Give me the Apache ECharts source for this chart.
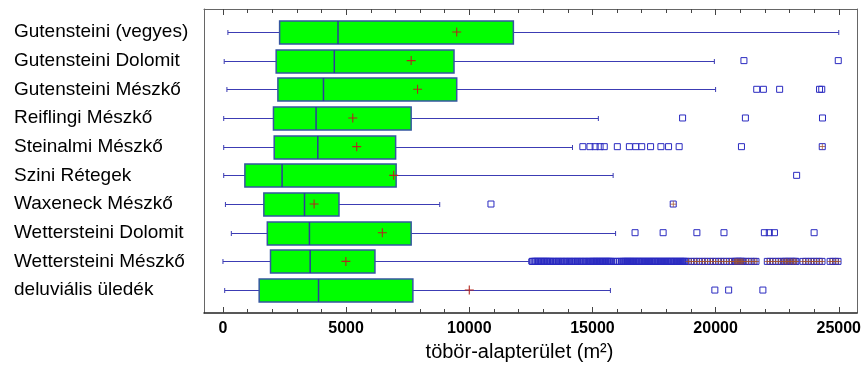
<!DOCTYPE html>
<html>
<head>
<meta charset="utf-8">
<script src="https://cdn.jsdelivr.net/npm/echarts@6/dist/echarts.min.js"></script>
<style>
  html, body { margin: 0; padding: 0; background: #fff; }
  #chart { width: 864px; height: 367px; }
</style>
</head>
<body>
<div id="chart"></div>
<script>
// categories, top to bottom
const categories = ['Gutensteini (vegyes)', 'Gutensteini Dolomit', 'Gutensteini Mészkő', 'Reiflingi Mészkő',
  'Steinalmi Mészkő', 'Szini Rétegek', 'Waxeneck Mészkő', 'Wettersteini Dolomit', 'Wettersteini Mészkő', 'deluviális üledék'];

// box statistics (m2)
const whiskerLow  = [200, 50, 160, 30, 30, 30, 100, 340, 0, 70];
const q1          = [2300, 2160, 2230, 2050, 2080, 890, 1660, 1800, 1930, 1470];
const median      = [4670, 4520, 4080, 3780, 3850, 2400, 3310, 3510, 3540, 3880];
const q3          = [11790, 9380, 9490, 7640, 7010, 7030, 4710, 7640, 6170, 7710];
const whiskerHigh = [25000, 19950, 20000, 15240, 14190, 15840, 8800, 15940, 12420, 15730];
const means       = [9490, 7640, 7900, 5270, 5430, 6930, 3700, 6470, 4990, 10000];

// outside points per category
const outGutVegyes = [];
const outGutDolomit = [21150, 24980];
const outGutMeszko = [21670, 21940, 22600, 24220, 24310];
const outReiflingi = [18660, 21210, 24340];
const outSteinalmi = [14610, 14900, 15110, 15310, 15480, 16010, 16500, 16760, 17000, 17360, 17780, 18090, 18520, 21050, 24330];
const outSzini = [23290];
const outWaxeneck = [10880, 18280];
const outWettDolomit = [16730, 17870, 19240, 20340, 21980, 22180, 22390, 24000];
const outWettMeszko = [
  12550, 12580, 12630, 12670, 12700, 12750, 12790, 12820, 12870, 12910, 12940, 12990, 13030, 13060, 13110, 13150, 13180, 13230, 13270,
  13320, 13380, 13430, 13490, 13540, 13600, 13650, 13710, 13760, 13820, 13870, 13930, 13980, 14040, 14090,
  14150, 14200, 14260, 14310, 14370, 14420, 14480, 14530, 14590, 14640, 14700, 14750, 14810, 14860, 14920,
  14970, 15010, 15050, 15090, 15130, 15170, 15210, 15260, 15290, 15330, 15380, 15410, 15460, 15500, 15540, 15580, 15620, 15660, 15700, 15740, 15780,
  15860, 15950, 16030, 16110, 16180,
  16230, 16270, 16310, 16350, 16390, 16430, 16470, 16510, 16550, 16590,
  16630, 16670, 16720, 16760, 16800, 16850, 16890, 16930, 16980, 17020, 17060, 17110, 17150, 17190, 17240, 17280, 17320,
  17370, 17410, 17450, 17500, 17540, 17580, 17630, 17670, 17710, 17760, 17800, 17840, 17890, 17930, 17970, 18020, 18060,
  18100, 18150, 18190, 18230, 18280, 18320, 18360, 18410, 18450, 18490, 18540, 18580, 18620, 18670, 18710, 18750, 18800,
  18900, 19010, 19130, 19230, 19340, 19460, 19560, 19670, 19790, 19890, 20000, 20120, 20220, 20330, 20440, 20560,
  20660, 20770, 20800, 20840, 20890, 20920, 20960, 21010, 21040, 21080, 21120, 21230, 21340, 21450, 21560, 21640,
  22100, 22210, 22320, 22440, 22550, 22660, 22760, 22820, 22870, 22930, 22990, 23050, 23110, 23170, 23230, 23270,
  23550, 23660, 23770, 23880, 23990, 24100, 24210, 24320,
  24650, 24760, 24870, 24970
];
const outDeluvialis = [19970, 20530, 21920];
const outliers = [outGutVegyes, outGutDolomit, outGutMeszko, outReiflingi, outSteinalmi,
  outSzini, outWaxeneck, outWettDolomit, outWettMeszko, outDeluvialis];

const majorTicks = [0, 5000, 10000, 15000, 20000, 25000];
const minorTicks = [1000, 2000, 3000, 4000, 6000, 7000, 8000, 9000, 11000, 12000, 13000, 14000,
  16000, 17000, 18000, 19000, 21000, 22000, 23000, 24000];

const FONT = 'Liberation Sans, Arial, sans-serif';
const X_MIN = -770, X_MAX = 25740;
const PLUS = 'path://M4.4,0h1.2v4.4h4.4v1.2h-4.4v4.4h-1.2v-4.4h-4.4v-1.2h4.4z';
const WHISKER = '#3c3cb4';

const boxData = categories.map((c, i) => [i, whiskerLow[i], q1[i], median[i], q3[i], whiskerHigh[i]]);
const meanData = categories.map((c, i) => [means[i], i]);
const outData = [];
const farData = [];
outliers.forEach((list, i) => {
  const farFence = q3[i] + 3 * (q3[i] - q1[i]);
  list.forEach(v => {
    outData.push([v, i]);
    if (v > farFence) farData.push([v, i]);
  });
});

function xAxisDef(position, ticks, len, withLine, withLabels) {
  return {
    type: 'value', position: position, min: X_MIN, max: X_MAX,
    axisLine: { show: withLine, onZero: false, lineStyle: { color: position === 'bottom' ? '#222' : '#666', width: position === 'bottom' ? 1.5 : 1 } },
    axisTick: { show: true, inside: true, length: len, customValues: ticks, lineStyle: { color: '#444' } },
    axisLabel: withLabels ? {
      customValues: majorTicks, formatter: v => String(v),
      fontFamily: FONT, fontSize: 16, fontWeight: 'bold', color: '#000', margin: 8
    } : { show: false },
    splitLine: { show: false },
    name: withLabels ? 'töbör-alapterület (m²)' : '',
    nameLocation: 'middle', nameGap: 29,
    nameTextStyle: { fontFamily: FONT, fontSize: 20, color: '#000', padding: [0, 22, 0, 0] }
  };
}

function yAxisDef(position, withLabels) {
  return {
    type: 'value', position: position, inverse: true, min: -0.8, max: 9.8,
    axisLine: { show: true, onZero: false, lineStyle: { color: '#666' } },
    axisTick: { show: false },
    splitLine: { show: false },
    axisLabel: withLabels ? {
      customValues: [0, 1, 2, 3, 4, 5, 6, 7, 8, 9],
      formatter: v => categories[Math.round(v)],
      align: 'left', margin: 190,
      fontFamily: FONT, fontSize: 19, color: '#000'
    } : { show: false }
  };
}

const chart = echarts.init(document.getElementById('chart'));
chart.setOption({
  animation: false,
  backgroundColor: '#fff',
  grid: { left: 204, right: 5, top: 9, bottom: 54 },
  xAxis: [
    xAxisDef('bottom', majorTicks, 6, true, true),
    xAxisDef('bottom', minorTicks, 4, false, false),
    xAxisDef('top', majorTicks, 6, true, false),
    xAxisDef('top', minorTicks, 4, false, false)
  ],
  yAxis: [yAxisDef('left', true), yAxisDef('right', false)],
  series: [
    {
      type: 'custom',
      data: boxData,
      encode: { x: [1, 2, 3, 4, 5], y: 0 },
      silent: true,
      renderItem: function (params, api) {
        const y = api.value(0);
        const pLo = api.coord([api.value(1), y]);
        const pQ1 = api.coord([api.value(2), y]);
        const pMed = api.coord([api.value(3), y]);
        const pQ3 = api.coord([api.value(4), y]);
        const pHi = api.coord([api.value(5), y]);
        const h = api.size([0, 0.8])[1];
        const cy = Math.round(pLo[1]) + 0.5;
        const cap = 2.5;
        const wStyle = { stroke: WHISKER, lineWidth: 1 };
        return {
          type: 'group',
          children: [
            { type: 'line', shape: { x1: pLo[0], y1: cy, x2: pQ1[0], y2: cy }, style: wStyle },
            { type: 'line', shape: { x1: pQ3[0], y1: cy, x2: pHi[0], y2: cy }, style: wStyle },
            { type: 'line', shape: { x1: pLo[0], y1: cy - cap, x2: pLo[0], y2: cy + cap }, style: wStyle },
            { type: 'line', shape: { x1: pHi[0], y1: cy - cap, x2: pHi[0], y2: cy + cap }, style: wStyle },
            { type: 'rect', shape: { x: pQ1[0], y: cy - h / 2, width: pQ3[0] - pQ1[0], height: h },
              style: { fill: '#00ff00', stroke: '#3556a0', lineWidth: 1.5 } },
            { type: 'line', shape: { x1: pMed[0], y1: cy - h / 2, x2: pMed[0], y2: cy + h / 2 },
              style: { stroke: '#2c3c9c', lineWidth: 1.5 } }
          ]
        };
      }
    },
    {
      type: 'scatter', data: outData, symbol: 'rect', symbolSize: 6, silent: true,
      itemStyle: { color: 'rgba(255,255,255,0)', borderColor: '#2a2ac0', borderWidth: 1, opacity: 1 }
    },
    {
      type: 'scatter', data: farData, symbol: PLUS, symbolSize: 6, silent: true,
      itemStyle: { color: '#a0522d', opacity: 1 }
    },
    {
      type: 'scatter', data: meanData, symbol: PLUS, symbolSize: 9, silent: true,
      itemStyle: { color: '#b3261e', opacity: 1 }
    }
  ]
});
</script>
</body>
</html>
